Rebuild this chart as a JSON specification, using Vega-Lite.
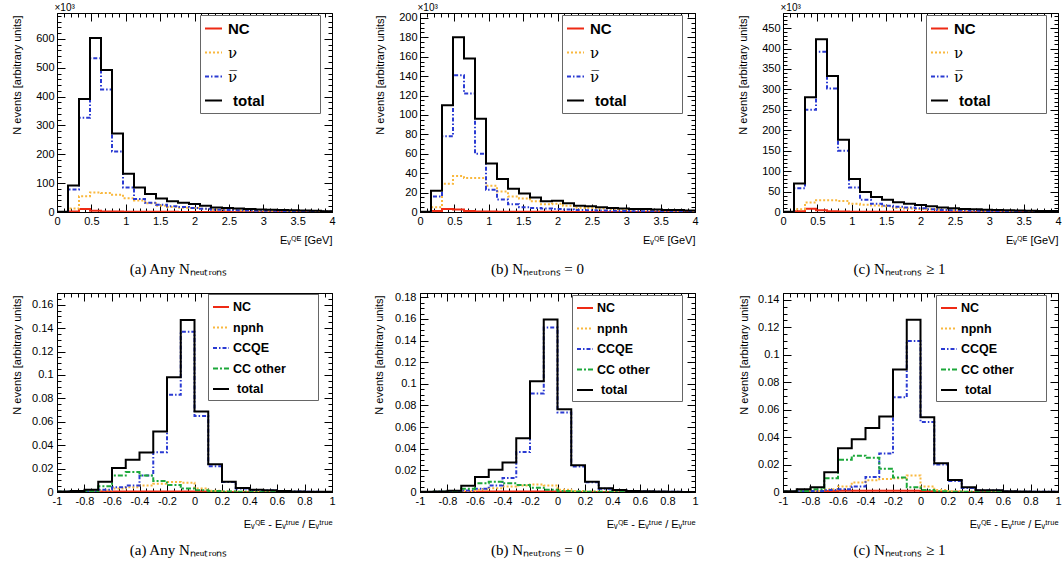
{
"$schema":"https://vega.github.io/schema/vega-lite/v6.json",
"padding":{"left":10,"top":1,"right":0,"bottom":0},
"background":"#ffffff",
"config":{
 "view":{"stroke":"#000","strokeWidth":1},
 "font":"Liberation Sans",
 "axis":{"domain":false,"grid":false,"tickColor":"#000","tickWidth":1,"labelColor":"#000","titleColor":"#000","labelFont":"Liberation Sans","labelFontSize":11,"titleFont":"Liberation Sans","titleFontSize":11,"titleFontWeight":"normal","tickSize":-8,"labelPadding":11,"labelFlush":false,"labelOverlap":false},
 "title":{"orient":"bottom","frame":"group","anchor":"middle","offset":17,"font":"Liberation Serif","fontSize":15,"fontWeight":"normal","color":"#000","baseline":"top"},
 "legend":{"titleFontSize":1}
},
"datasets":{
"ta":[
{"x":0,"NC":0,"nu":0,"nubar":0,"total":0.5},
{"x":0.16,"NC":2,"nu":12,"nubar":78,"total":92},
{"x":0.32,"NC":10,"nu":55,"nubar":327,"total":392},
{"x":0.48,"NC":4,"nu":68,"nubar":533,"total":603},
{"x":0.64,"NC":2,"nu":66,"nubar":425,"total":492},
{"x":0.8,"NC":1.5,"nu":60,"nubar":210,"total":272},
{"x":0.96,"NC":1,"nu":48,"nubar":85,"total":133},
{"x":1.12,"NC":0.8,"nu":40,"nubar":45,"total":85},
{"x":1.28,"NC":0.6,"nu":30,"nubar":32,"total":62},
{"x":1.44,"NC":0.5,"nu":22,"nubar":25,"total":47},
{"x":1.6,"NC":0.5,"nu":17,"nubar":20,"total":37},
{"x":1.76,"NC":0.4,"nu":15,"nubar":17,"total":32},
{"x":1.92,"NC":0.4,"nu":14,"nubar":14,"total":28},
{"x":2.08,"NC":0.3,"nu":11,"nubar":11,"total":22},
{"x":2.24,"NC":0.3,"nu":8,"nubar":8,"total":16},
{"x":2.4,"NC":0.3,"nu":7,"nubar":7,"total":14},
{"x":2.56,"NC":0.2,"nu":6,"nubar":6,"total":12},
{"x":2.72,"NC":0.2,"nu":5,"nubar":5,"total":10},
{"x":2.88,"NC":0.2,"nu":4.5,"nubar":4.5,"total":9},
{"x":3.04,"NC":0.2,"nu":4,"nubar":4,"total":8},
{"x":3.2,"NC":0.1,"nu":3.5,"nubar":3.5,"total":7},
{"x":3.36,"NC":0.1,"nu":3,"nubar":3,"total":6},
{"x":3.52,"NC":0.1,"nu":2.5,"nubar":2.5,"total":5},
{"x":3.68,"NC":0.1,"nu":2,"nubar":2,"total":4},
{"x":3.84,"NC":0.1,"nu":1.5,"nubar":1.5,"total":3},
{"x":4,"NC":0.1,"nu":1.5,"nubar":1.5,"total":3}],
"tb":[
{"x":0,"NC":0,"nu":0,"nubar":0,"total":0.2},
{"x":0.16,"NC":1,"nu":5,"nubar":16,"total":22},
{"x":0.32,"NC":3,"nu":29,"nubar":78,"total":110},
{"x":0.48,"NC":2.5,"nu":37,"nubar":141,"total":180},
{"x":0.64,"NC":1,"nu":35,"nubar":122,"total":158},
{"x":0.8,"NC":0.6,"nu":35,"nubar":60,"total":96},
{"x":0.96,"NC":0.4,"nu":27,"nubar":23,"total":50},
{"x":1.12,"NC":0.3,"nu":21,"nubar":13,"total":34},
{"x":1.28,"NC":0.3,"nu":16,"nubar":8,"total":24},
{"x":1.44,"NC":0.2,"nu":14,"nubar":5,"total":19},
{"x":1.6,"NC":0.2,"nu":11,"nubar":4,"total":15},
{"x":1.76,"NC":0.2,"nu":8,"nubar":3.5,"total":11},
{"x":1.92,"NC":0.2,"nu":8.5,"nubar":3,"total":11.5},
{"x":2.08,"NC":0.1,"nu":6.5,"nubar":2.5,"total":9},
{"x":2.24,"NC":0.1,"nu":4.5,"nubar":2,"total":6.5},
{"x":2.4,"NC":0.1,"nu":4.2,"nubar":1.8,"total":6},
{"x":2.56,"NC":0.1,"nu":3.5,"nubar":1.5,"total":5},
{"x":2.72,"NC":0.1,"nu":2.8,"nubar":1.2,"total":4},
{"x":2.88,"NC":0.1,"nu":2.5,"nubar":1,"total":3.5},
{"x":3.04,"NC":0.1,"nu":2.2,"nubar":0.8,"total":3},
{"x":3.2,"NC":0.1,"nu":2.2,"nubar":0.8,"total":3},
{"x":3.36,"NC":0,"nu":1.8,"nubar":0.7,"total":2.5},
{"x":3.52,"NC":0,"nu":1.4,"nubar":0.6,"total":2},
{"x":3.68,"NC":0,"nu":1.4,"nubar":0.6,"total":2},
{"x":3.84,"NC":0,"nu":1,"nubar":0.5,"total":1.5},
{"x":4,"NC":0,"nu":1,"nubar":0.5,"total":1.5}],
"tc":[
{"x":0,"NC":0,"nu":0,"nubar":0,"total":0.5},
{"x":0.16,"NC":2,"nu":7,"nubar":58,"total":70},
{"x":0.32,"NC":8,"nu":23,"nubar":250,"total":281},
{"x":0.48,"NC":4,"nu":29,"nubar":392,"total":423},
{"x":0.64,"NC":2,"nu":29,"nubar":302,"total":333},
{"x":0.8,"NC":1,"nu":27,"nubar":150,"total":177},
{"x":0.96,"NC":0.8,"nu":20,"nubar":60,"total":81},
{"x":1.12,"NC":0.6,"nu":18,"nubar":30,"total":49},
{"x":1.28,"NC":0.5,"nu":16,"nubar":20,"total":37},
{"x":1.44,"NC":0.4,"nu":14,"nubar":15,"total":30},
{"x":1.6,"NC":0.4,"nu":10,"nubar":13,"total":24},
{"x":1.76,"NC":0.3,"nu":8.5,"nubar":11,"total":20},
{"x":1.92,"NC":0.3,"nu":7.5,"nubar":9,"total":17},
{"x":2.08,"NC":0.3,"nu":6.5,"nubar":7,"total":14},
{"x":2.24,"NC":0.2,"nu":5.5,"nubar":5,"total":11},
{"x":2.4,"NC":0.2,"nu":4.5,"nubar":4,"total":9},
{"x":2.56,"NC":0.2,"nu":3.8,"nubar":3.5,"total":7.5},
{"x":2.72,"NC":0.2,"nu":3.3,"nubar":3,"total":6.5},
{"x":2.88,"NC":0.1,"nu":2.8,"nubar":2.5,"total":5.5},
{"x":3.04,"NC":0.1,"nu":2.8,"nubar":2,"total":5},
{"x":3.2,"NC":0.1,"nu":2,"nubar":2,"total":4},
{"x":3.36,"NC":0.1,"nu":1.8,"nubar":1.5,"total":3.5},
{"x":3.52,"NC":0.1,"nu":1.6,"nubar":1.5,"total":3.2},
{"x":3.68,"NC":0.1,"nu":1.5,"nubar":1,"total":2.6},
{"x":3.84,"NC":0.1,"nu":1.5,"nubar":1,"total":2.6},
{"x":4,"NC":0.1,"nu":1.5,"nubar":1,"total":2.6}],
"ba":[
{"x":-1,"NC":0,"npnh":0,"CCQE":0.0002,"CC other":0.0002,"total":0.0005},
{"x":-0.9,"NC":0,"npnh":0.0001,"CCQE":0.0003,"CC other":0.0003,"total":0.0008},
{"x":-0.8,"NC":0.0002,"npnh":0.0004,"CCQE":0.0005,"CC other":0.0008,"total":0.002},
{"x":-0.7,"NC":0.0004,"npnh":0.0015,"CCQE":0.002,"CC other":0.005,"total":0.0088},
{"x":-0.6,"NC":0.0005,"npnh":0.003,"CCQE":0.004,"CC other":0.014,"total":0.0204},
{"x":-0.5,"NC":0.0005,"npnh":0.004,"CCQE":0.0055,"CC other":0.017,"total":0.0275},
{"x":-0.4,"NC":0.0005,"npnh":0.0055,"CCQE":0.014,"CC other":0.014,"total":0.0338},
{"x":-0.3,"NC":0.0005,"npnh":0.007,"CCQE":0.034,"CC other":0.0095,"total":0.0516},
{"x":-0.2,"NC":0.0005,"npnh":0.0085,"CCQE":0.083,"CC other":0.006,"total":0.098},
{"x":-0.1,"NC":0.0005,"npnh":0.008,"CCQE":0.137,"CC other":0.003,"total":0.147},
{"x":0,"NC":0.0004,"npnh":0.003,"CCQE":0.065,"CC other":0.0015,"total":0.0687},
{"x":0.1,"NC":0.0002,"npnh":0.001,"CCQE":0.022,"CC other":0.0008,"total":0.0238},
{"x":0.2,"NC":0.0001,"npnh":0.0005,"CCQE":0.0085,"CC other":0.0004,"total":0.0088},
{"x":0.3,"NC":0,"npnh":0.0002,"CCQE":0.003,"CC other":0.0002,"total":0.0034},
{"x":0.4,"NC":0,"npnh":0.0001,"CCQE":0.0017,"CC other":0.0001,"total":0.002},
{"x":0.5,"NC":0,"npnh":0.0001,"CCQE":0.0012,"CC other":0.0001,"total":0.0014},
{"x":0.6,"NC":0,"npnh":0,"CCQE":0.0007,"CC other":0.0001,"total":0.0008},
{"x":0.7,"NC":0,"npnh":0,"CCQE":0.0004,"CC other":0,"total":0.0005},
{"x":0.8,"NC":0,"npnh":0,"CCQE":0.0002,"CC other":0,"total":0.0003},
{"x":0.9,"NC":0,"npnh":0,"CCQE":0.0001,"CC other":0,"total":0.0002},
{"x":1,"NC":0,"npnh":0,"CCQE":0.0001,"CC other":0,"total":0.0002}],
"bb":[
{"x":-1,"NC":0,"npnh":0,"CCQE":0.0001,"CC other":0.0001,"total":0.0003},
{"x":-0.9,"NC":0,"npnh":0.0001,"CCQE":0.0002,"CC other":0.0002,"total":0.0005},
{"x":-0.8,"NC":0.0001,"npnh":0.0002,"CCQE":0.0004,"CC other":0.0005,"total":0.0012},
{"x":-0.7,"NC":0.0003,"npnh":0.001,"CCQE":0.0015,"CC other":0.003,"total":0.0058},
{"x":-0.6,"NC":0.0004,"npnh":0.002,"CCQE":0.003,"CC other":0.008,"total":0.0138},
{"x":-0.5,"NC":0.0004,"npnh":0.0035,"CCQE":0.006,"CC other":0.0095,"total":0.0205},
{"x":-0.4,"NC":0.0004,"npnh":0.005,"CCQE":0.013,"CC other":0.008,"total":0.0273},
{"x":-0.3,"NC":0.0004,"npnh":0.006,"CCQE":0.037,"CC other":0.0065,"total":0.0497},
{"x":-0.2,"NC":0.0004,"npnh":0.007,"CCQE":0.091,"CC other":0.004,"total":0.1024},
{"x":-0.1,"NC":0.0004,"npnh":0.006,"CCQE":0.152,"CC other":0.002,"total":0.1595},
{"x":0,"NC":0.0003,"npnh":0.002,"CCQE":0.0735,"CC other":0.001,"total":0.0764},
{"x":0.1,"NC":0.0001,"npnh":0.001,"CCQE":0.0235,"CC other":0.0005,"total":0.0248},
{"x":0.2,"NC":0,"npnh":0.0004,"CCQE":0.009,"CC other":0.0002,"total":0.0095},
{"x":0.3,"NC":0,"npnh":0.0002,"CCQE":0.003,"CC other":0.0002,"total":0.0034},
{"x":0.4,"NC":0,"npnh":0.0001,"CCQE":0.0016,"CC other":0.0001,"total":0.0018},
{"x":0.5,"NC":0,"npnh":0,"CCQE":0.0009,"CC other":0.0001,"total":0.001},
{"x":0.6,"NC":0,"npnh":0,"CCQE":0.0005,"CC other":0,"total":0.0006},
{"x":0.7,"NC":0,"npnh":0,"CCQE":0.0003,"CC other":0,"total":0.0004},
{"x":0.8,"NC":0,"npnh":0,"CCQE":0.0002,"CC other":0,"total":0.0002},
{"x":0.9,"NC":0,"npnh":0,"CCQE":0.0001,"CC other":0,"total":0.0001},
{"x":1,"NC":0,"npnh":0,"CCQE":0.0001,"CC other":0,"total":0.0001}],
"bc":[
{"x":-1,"NC":0,"npnh":0,"CCQE":0.0002,"CC other":0.0002,"total":0.0005},
{"x":-0.9,"NC":0.0002,"npnh":0.0003,"CCQE":0.0005,"CC other":0.0008,"total":0.002},
{"x":-0.8,"NC":0.0004,"npnh":0.0006,"CCQE":0.0008,"CC other":0.002,"total":0.0035},
{"x":-0.7,"NC":0.0008,"npnh":0.002,"CCQE":0.0015,"CC other":0.01,"total":0.0143},
{"x":-0.6,"NC":0.001,"npnh":0.004,"CCQE":0.002,"CC other":0.0235,"total":0.0319},
{"x":-0.5,"NC":0.001,"npnh":0.007,"CCQE":0.004,"CC other":0.0265,"total":0.0384},
{"x":-0.4,"NC":0.001,"npnh":0.0085,"CCQE":0.011,"CC other":0.025,"total":0.0467},
{"x":-0.3,"NC":0.001,"npnh":0.0095,"CCQE":0.028,"CC other":0.017,"total":0.0551},
{"x":-0.2,"NC":0.001,"npnh":0.01,"CCQE":0.069,"CC other":0.0105,"total":0.0892},
{"x":-0.1,"NC":0.001,"npnh":0.012,"CCQE":0.11,"CC other":0.0035,"total":0.1255},
{"x":0,"NC":0.0005,"npnh":0.004,"CCQE":0.051,"CC other":0.0015,"total":0.0544},
{"x":0.1,"NC":0.0002,"npnh":0.0015,"CCQE":0.02,"CC other":0.0005,"total":0.021},
{"x":0.2,"NC":0.0001,"npnh":0.0005,"CCQE":0.008,"CC other":0.0002,"total":0.0087},
{"x":0.3,"NC":0,"npnh":0.0002,"CCQE":0.003,"CC other":0.0001,"total":0.0034},
{"x":0.4,"NC":0,"npnh":0.0001,"CCQE":0.0011,"CC other":0.0001,"total":0.0013},
{"x":0.5,"NC":0,"npnh":0.0001,"CCQE":0.0011,"CC other":0.0001,"total":0.0013},
{"x":0.6,"NC":0,"npnh":0,"CCQE":0.0004,"CC other":0,"total":0.0005},
{"x":0.7,"NC":0,"npnh":0,"CCQE":0.0002,"CC other":0,"total":0.0003},
{"x":0.8,"NC":0,"npnh":0,"CCQE":0.0001,"CC other":0,"total":0.0002},
{"x":0.9,"NC":0,"npnh":0,"CCQE":0.0001,"CC other":0,"total":0.0001},
{"x":1,"NC":0,"npnh":0,"CCQE":0.0001,"CC other":0,"total":0.0001}]
},
"concat":[
 {"width":275,"height":199,"data":{"name":"ta"},
  "transform":[{"fold":["NC","nu","nubar","total"],"as":["s","v"]}],
  "title":{"text":"(a) Any Nₙₑᵤₜᵣₒₙₛ","dx":-16,"offset":17},
  "layer":[
   {"mark":{"type":"line","interpolate":"step-after","clip":true},
    "encoding":{
     "x":{"field":"x","type":"quantitative","scale":{"domain":[0,4],"nice":false,"zero":false},"axis":{"orient":"bottom","values":[0,0.5,1,1.5,2,2.5,3,3.5,4],"format":".1~f","title":"Eᵥꟴᴱ [GeV]","titleX":275,"titleY":22,"titleAlign":"right","titleBaseline":"top"}},
     "y":{"field":"v","type":"quantitative","scale":{"domain":[0,690],"nice":false},"axis":{"orient":"left","values":[0,100,200,300,400,500,600],"format":"d","title":"N events [arbitrary units]","titleX":-40,"titleY":2,"titleAlign":"right","titleBaseline":"middle","titleAngle":-90}},
     "color":{"field":"s","type":"nominal","scale":{"domain":["NC","nu","nubar","total"],"range":["#ee2a14","#f9b83e","#2a3ad2","#000000"]},
      "legend":{"title":null,"orient":"none","legendX":143,"legendY":2,"direction":"vertical","strokeColor":"#666","fillColor":"#fff","padding":4,"symbolType":"M-1,0L1,0M11.5,0L11.5,0","symbolFillColor":"transparent","symbolSize":289,"rowPadding":6,"labelOffset":5,"labelFontSize":15,"labelColor":"#000","labelExpr":"datum.value=='nu'?'ν':datum.value=='nubar'?'ν̅':datum.label","encode":{"labels":{"update":{"fontWeight":{"signal":"datum.value=='nu'||datum.value=='nubar'?'normal':'bold'"},"font":{"signal":"datum.value=='nu'||datum.value=='nubar'?'DejaVu Serif':'Liberation Sans'"},"dx":{"signal":"datum.value=='total'?5:0"}}}}}},
     "strokeDash":{"field":"s","type":"nominal","scale":{"domain":["NC","nu","nubar","total"],"range":[[1,0],[2,2],[4,2,1.5,2],[1,0]]}},
     "strokeWidth":{"field":"s","type":"nominal","scale":{"domain":["NC","nu","nubar","total"],"range":[2,2,2,3]}}
    }},
   {"mark":{"type":"line","opacity":0},
    "encoding":{
     "x":{"field":"x","type":"quantitative","scale":{"domain":[0,4],"nice":false,"zero":false},"axis":{"orient":"top","labels":false,"values":[0,0.5,1,1.5,2,2.5,3,3.5,4],"title":"×10³","titleX":-3,"titleY":-3,"titleAlign":"left","titleBaseline":"alphabetic","titleAngle":0,"titleFontSize":10}},
     "y":{"field":"v","type":"quantitative","scale":{"domain":[0,690],"nice":false},"axis":{"orient":"right","labels":false,"values":[0,100,200,300,400,500,600],"title":null}}}},
   {"mark":{"type":"line","opacity":0},
    "encoding":{
     "x":{"field":"x","type":"quantitative","scale":{"domain":[0,4],"nice":false,"zero":false},"axis":{"orient":"bottom","labels":false,"tickCount":40,"tickSize":-4,"title":null}},
     "y":{"field":"v","type":"quantitative","scale":{"domain":[0,690],"nice":false},"axis":{"orient":"left","labels":false,"tickCount":35,"tickSize":-4,"title":null}}}},
   {"mark":{"type":"line","opacity":0},
    "encoding":{
     "x":{"field":"x","type":"quantitative","scale":{"domain":[0,4],"nice":false,"zero":false},"axis":{"orient":"top","labels":false,"tickCount":40,"tickSize":-4,"title":null}},
     "y":{"field":"v","type":"quantitative","scale":{"domain":[0,690],"nice":false},"axis":{"orient":"right","labels":false,"tickCount":35,"tickSize":-4,"title":null}}}}
  ],
  "resolve":{"axis":{"x":"independent","y":"independent"}}
 },
 {"width":275,"height":199,"data":{"name":"tb"},
  "transform":[{"fold":["NC","nu","nubar","total"],"as":["s","v"]}],
  "title":{"text":"(b) Nₙₑᵤₜᵣₒₙₛ = 0","dx":-20,"offset":17},
  "layer":[
   {"mark":{"type":"line","interpolate":"step-after","clip":true},
    "encoding":{
     "x":{"field":"x","type":"quantitative","scale":{"domain":[0,4],"nice":false,"zero":false},"axis":{"orient":"bottom","values":[0,0.5,1,1.5,2,2.5,3,3.5,4],"format":".1~f","title":"Eᵥꟴᴱ [GeV]","titleX":275,"titleY":22,"titleAlign":"right","titleBaseline":"top"}},
     "y":{"field":"v","type":"quantitative","scale":{"domain":[0,205],"nice":false},"axis":{"orient":"left","values":[0,20,40,60,80,100,120,140,160,180,200],"format":"d","title":"N events [arbitrary units]","titleX":-40,"titleY":2,"titleAlign":"right","titleBaseline":"middle","titleAngle":-90}},
     "color":{"field":"s","type":"nominal","scale":{"domain":["NC","nu","nubar","total"],"range":["#ee2a14","#f9b83e","#2a3ad2","#000000"]},
      "legend":{"title":null,"orient":"none","legendX":142,"legendY":2,"direction":"vertical","strokeColor":"#666","fillColor":"#fff","padding":4,"symbolType":"M-1,0L1,0M11.5,0L11.5,0","symbolFillColor":"transparent","symbolSize":289,"rowPadding":6,"labelOffset":5,"labelFontSize":15,"labelColor":"#000","labelExpr":"datum.value=='nu'?'ν':datum.value=='nubar'?'ν̅':datum.label","encode":{"labels":{"update":{"fontWeight":{"signal":"datum.value=='nu'||datum.value=='nubar'?'normal':'bold'"},"font":{"signal":"datum.value=='nu'||datum.value=='nubar'?'DejaVu Serif':'Liberation Sans'"},"dx":{"signal":"datum.value=='total'?5:0"}}}}}},
     "strokeDash":{"field":"s","type":"nominal","scale":{"domain":["NC","nu","nubar","total"],"range":[[1,0],[2,2],[4,2,1.5,2],[1,0]]}},
     "strokeWidth":{"field":"s","type":"nominal","scale":{"domain":["NC","nu","nubar","total"],"range":[2,2,2,3]}}
    }},
   {"mark":{"type":"line","opacity":0},
    "encoding":{
     "x":{"field":"x","type":"quantitative","scale":{"domain":[0,4],"nice":false,"zero":false},"axis":{"orient":"top","labels":false,"values":[0,0.5,1,1.5,2,2.5,3,3.5,4],"title":"×10³","titleX":-3,"titleY":-3,"titleAlign":"left","titleBaseline":"alphabetic","titleAngle":0,"titleFontSize":10}},
     "y":{"field":"v","type":"quantitative","scale":{"domain":[0,205],"nice":false},"axis":{"orient":"right","labels":false,"values":[0,20,40,60,80,100,120,140,160,180,200],"title":null}}}},
   {"mark":{"type":"line","opacity":0},
    "encoding":{
     "x":{"field":"x","type":"quantitative","scale":{"domain":[0,4],"nice":false,"zero":false},"axis":{"orient":"bottom","labels":false,"tickCount":40,"tickSize":-4,"title":null}},
     "y":{"field":"v","type":"quantitative","scale":{"domain":[0,205],"nice":false},"axis":{"orient":"left","labels":false,"tickCount":40,"tickSize":-4,"title":null}}}},
   {"mark":{"type":"line","opacity":0},
    "encoding":{
     "x":{"field":"x","type":"quantitative","scale":{"domain":[0,4],"nice":false,"zero":false},"axis":{"orient":"top","labels":false,"tickCount":40,"tickSize":-4,"title":null}},
     "y":{"field":"v","type":"quantitative","scale":{"domain":[0,205],"nice":false},"axis":{"orient":"right","labels":false,"tickCount":40,"tickSize":-4,"title":null}}}}
  ],
  "resolve":{"axis":{"x":"independent","y":"independent"}}
 },
 {"width":275,"height":199,"data":{"name":"tc"},
  "transform":[{"fold":["NC","nu","nubar","total"],"as":["s","v"]}],
  "title":{"text":"(c) Nₙₑᵤₜᵣₒₙₛ ≥ 1","dx":-21,"offset":17},
  "layer":[
   {"mark":{"type":"line","interpolate":"step-after","clip":true},
    "encoding":{
     "x":{"field":"x","type":"quantitative","scale":{"domain":[0,4],"nice":false,"zero":false},"axis":{"orient":"bottom","values":[0,0.5,1,1.5,2,2.5,3,3.5,4],"format":".1~f","title":"Eᵥꟴᴱ [GeV]","titleX":275,"titleY":22,"titleAlign":"right","titleBaseline":"top"}},
     "y":{"field":"v","type":"quantitative","scale":{"domain":[0,487],"nice":false},"axis":{"orient":"left","values":[0,50,100,150,200,250,300,350,400,450],"format":"d","title":"N events [arbitrary units]","titleX":-40,"titleY":2,"titleAlign":"right","titleBaseline":"middle","titleAngle":-90}},
     "color":{"field":"s","type":"nominal","scale":{"domain":["NC","nu","nubar","total"],"range":["#ee2a14","#f9b83e","#2a3ad2","#000000"]},
      "legend":{"title":null,"orient":"none","legendX":143,"legendY":2,"direction":"vertical","strokeColor":"#666","fillColor":"#fff","padding":4,"symbolType":"M-1,0L1,0M11.5,0L11.5,0","symbolFillColor":"transparent","symbolSize":289,"rowPadding":6,"labelOffset":5,"labelFontSize":15,"labelColor":"#000","labelExpr":"datum.value=='nu'?'ν':datum.value=='nubar'?'ν̅':datum.label","encode":{"labels":{"update":{"fontWeight":{"signal":"datum.value=='nu'||datum.value=='nubar'?'normal':'bold'"},"font":{"signal":"datum.value=='nu'||datum.value=='nubar'?'DejaVu Serif':'Liberation Sans'"},"dx":{"signal":"datum.value=='total'?5:0"}}}}}},
     "strokeDash":{"field":"s","type":"nominal","scale":{"domain":["NC","nu","nubar","total"],"range":[[1,0],[2,2],[4,2,1.5,2],[1,0]]}},
     "strokeWidth":{"field":"s","type":"nominal","scale":{"domain":["NC","nu","nubar","total"],"range":[2,2,2,3]}}
    }},
   {"mark":{"type":"line","opacity":0},
    "encoding":{
     "x":{"field":"x","type":"quantitative","scale":{"domain":[0,4],"nice":false,"zero":false},"axis":{"orient":"top","labels":false,"values":[0,0.5,1,1.5,2,2.5,3,3.5,4],"title":"×10³","titleX":-3,"titleY":-3,"titleAlign":"left","titleBaseline":"alphabetic","titleAngle":0,"titleFontSize":10}},
     "y":{"field":"v","type":"quantitative","scale":{"domain":[0,487],"nice":false},"axis":{"orient":"right","labels":false,"values":[0,50,100,150,200,250,300,350,400,450],"title":null}}}},
   {"mark":{"type":"line","opacity":0},
    "encoding":{
     "x":{"field":"x","type":"quantitative","scale":{"domain":[0,4],"nice":false,"zero":false},"axis":{"orient":"bottom","labels":false,"tickCount":40,"tickSize":-4,"title":null}},
     "y":{"field":"v","type":"quantitative","scale":{"domain":[0,487],"nice":false},"axis":{"orient":"left","labels":false,"tickCount":48,"tickSize":-4,"title":null}}}},
   {"mark":{"type":"line","opacity":0},
    "encoding":{
     "x":{"field":"x","type":"quantitative","scale":{"domain":[0,4],"nice":false,"zero":false},"axis":{"orient":"top","labels":false,"tickCount":40,"tickSize":-4,"title":null}},
     "y":{"field":"v","type":"quantitative","scale":{"domain":[0,487],"nice":false},"axis":{"orient":"right","labels":false,"tickCount":48,"tickSize":-4,"title":null}}}}
  ],
  "resolve":{"axis":{"x":"independent","y":"independent"}}
 },
 {"width":275,"height":199,"data":{"name":"ba"},
  "transform":[{"fold":["NC","npnh","CCQE","CC other","total"],"as":["s","v"]}],
  "title":{"text":"(a) Any Nₙₑᵤₜᵣₒₙₛ","dx":-16,"offset":14},
  "layer":[
   {"mark":{"type":"line","interpolate":"step-after","clip":true},
    "encoding":{
     "x":{"field":"x","type":"quantitative","scale":{"domain":[-1,1],"nice":false,"zero":false},"axis":{"orient":"bottom","values":[-1,-0.8,-0.6,-0.4,-0.2,0,0.2,0.4,0.6,0.8,1],"labelExpr":"replace(format(datum.value,'.1~f'),'−','-')","title":"Eᵥꟴᴱ - Eᵥᵗʳᵘᵉ / Eᵥᵗʳᵘᵉ","titleX":275,"titleY":26,"titleAlign":"right","titleBaseline":"top"}},
     "y":{"field":"v","type":"quantitative","scale":{"domain":[0,0.17],"nice":false},"axis":{"orient":"left","values":[0,0.02,0.04,0.06,0.08,0.1,0.12,0.14,0.16],"format":".2~f","labelPadding":12,"title":"N events [arbitrary units]","titleX":-40,"titleY":2,"titleAlign":"right","titleBaseline":"middle","titleAngle":-90}},
     "color":{"field":"s","type":"nominal","scale":{"domain":["NC","npnh","CCQE","CC other","total"],"range":["#ee2a14","#f9b83e","#2a3ad2","#1ca83a","#000000"]},
      "legend":{"title":null,"orient":"none","legendX":151,"legendY":1,"direction":"vertical","strokeColor":"#666","fillColor":"#fff","padding":4,"symbolType":"M-1,0L1,0M11.1,0L11.1,0","symbolFillColor":"transparent","symbolSize":256,"rowPadding":4.5,"labelOffset":3,"labelFontSize":12.5,"labelColor":"#000","labelExpr":"datum.label","encode":{"labels":{"update":{"fontWeight":{"value":"bold"},"font":{"value":"Liberation Sans"},"dx":{"signal":"datum.value=='total'?4:0"}}}}}},
     "strokeDash":{"field":"s","type":"nominal","scale":{"domain":["NC","npnh","CCQE","CC other","total"],"range":[[1,0],[2,2],[4,2,1.5,2],[5,2,2,2],[1,0]]}},
     "strokeWidth":{"field":"s","type":"nominal","scale":{"domain":["NC","npnh","CCQE","CC other","total"],"range":[2,2,2,2,3]}}
    }},
   {"mark":{"type":"line","opacity":0},
    "encoding":{
     "x":{"field":"x","type":"quantitative","scale":{"domain":[-1,1],"nice":false,"zero":false},"axis":{"orient":"top","labels":false,"values":[-1,-0.8,-0.6,-0.4,-0.2,0,0.2,0.4,0.6,0.8,1],"title":null}},
     "y":{"field":"v","type":"quantitative","scale":{"domain":[0,0.17],"nice":false},"axis":{"orient":"right","labels":false,"values":[0,0.02,0.04,0.06,0.08,0.1,0.12,0.14,0.16],"title":null}}}},
   {"mark":{"type":"line","opacity":0},
    "encoding":{
     "x":{"field":"x","type":"quantitative","scale":{"domain":[-1,1],"nice":false,"zero":false},"axis":{"orient":"bottom","labels":false,"tickCount":40,"tickSize":-4,"title":null}},
     "y":{"field":"v","type":"quantitative","scale":{"domain":[0,0.17],"nice":false},"axis":{"orient":"left","labels":false,"tickCount":34,"tickSize":-4,"title":null}}}},
   {"mark":{"type":"line","opacity":0},
    "encoding":{
     "x":{"field":"x","type":"quantitative","scale":{"domain":[-1,1],"nice":false,"zero":false},"axis":{"orient":"top","labels":false,"tickCount":40,"tickSize":-4,"title":null}},
     "y":{"field":"v","type":"quantitative","scale":{"domain":[0,0.17],"nice":false},"axis":{"orient":"right","labels":false,"tickCount":34,"tickSize":-4,"title":null}}}}
  ],
  "resolve":{"axis":{"x":"independent","y":"independent"}}
 },
 {"width":275,"height":199,"data":{"name":"bb"},
  "transform":[{"fold":["NC","npnh","CCQE","CC other","total"],"as":["s","v"]}],
  "title":{"text":"(b) Nₙₑᵤₜᵣₒₙₛ = 0","dx":-20,"offset":14},
  "layer":[
   {"mark":{"type":"line","interpolate":"step-after","clip":true},
    "encoding":{
     "x":{"field":"x","type":"quantitative","scale":{"domain":[-1,1],"nice":false,"zero":false},"axis":{"orient":"bottom","values":[-1,-0.8,-0.6,-0.4,-0.2,0,0.2,0.4,0.6,0.8,1],"labelExpr":"replace(format(datum.value,'.1~f'),'−','-')","title":"Eᵥꟴᴱ - Eᵥᵗʳᵘᵉ / Eᵥᵗʳᵘᵉ","titleX":275,"titleY":26,"titleAlign":"right","titleBaseline":"top"}},
     "y":{"field":"v","type":"quantitative","scale":{"domain":[0,0.184],"nice":false},"axis":{"orient":"left","values":[0,0.02,0.04,0.06,0.08,0.1,0.12,0.14,0.16,0.18],"format":".2~f","labelPadding":12,"title":"N events [arbitrary units]","titleX":-41,"titleY":2,"titleAlign":"right","titleBaseline":"middle","titleAngle":-90}},
     "color":{"field":"s","type":"nominal","scale":{"domain":["NC","npnh","CCQE","CC other","total"],"range":["#ee2a14","#f9b83e","#2a3ad2","#1ca83a","#000000"]},
      "legend":{"title":null,"orient":"none","legendX":152,"legendY":2,"direction":"vertical","strokeColor":"#666","fillColor":"#fff","padding":4,"symbolType":"M-1,0L1,0M11.1,0L11.1,0","symbolFillColor":"transparent","symbolSize":256,"rowPadding":4.5,"labelOffset":3,"labelFontSize":12.5,"labelColor":"#000","labelExpr":"datum.label","encode":{"labels":{"update":{"fontWeight":{"value":"bold"},"font":{"value":"Liberation Sans"},"dx":{"signal":"datum.value=='total'?4:0"}}}}}},
     "strokeDash":{"field":"s","type":"nominal","scale":{"domain":["NC","npnh","CCQE","CC other","total"],"range":[[1,0],[2,2],[4,2,1.5,2],[5,2,2,2],[1,0]]}},
     "strokeWidth":{"field":"s","type":"nominal","scale":{"domain":["NC","npnh","CCQE","CC other","total"],"range":[2,2,2,2,3]}}
    }},
   {"mark":{"type":"line","opacity":0},
    "encoding":{
     "x":{"field":"x","type":"quantitative","scale":{"domain":[-1,1],"nice":false,"zero":false},"axis":{"orient":"top","labels":false,"values":[-1,-0.8,-0.6,-0.4,-0.2,0,0.2,0.4,0.6,0.8,1],"title":null}},
     "y":{"field":"v","type":"quantitative","scale":{"domain":[0,0.184],"nice":false},"axis":{"orient":"right","labels":false,"values":[0,0.02,0.04,0.06,0.08,0.1,0.12,0.14,0.16,0.18],"title":null}}}},
   {"mark":{"type":"line","opacity":0},
    "encoding":{
     "x":{"field":"x","type":"quantitative","scale":{"domain":[-1,1],"nice":false,"zero":false},"axis":{"orient":"bottom","labels":false,"tickCount":40,"tickSize":-4,"title":null}},
     "y":{"field":"v","type":"quantitative","scale":{"domain":[0,0.184],"nice":false},"axis":{"orient":"left","labels":false,"tickCount":36,"tickSize":-4,"title":null}}}},
   {"mark":{"type":"line","opacity":0},
    "encoding":{
     "x":{"field":"x","type":"quantitative","scale":{"domain":[-1,1],"nice":false,"zero":false},"axis":{"orient":"top","labels":false,"tickCount":40,"tickSize":-4,"title":null}},
     "y":{"field":"v","type":"quantitative","scale":{"domain":[0,0.184],"nice":false},"axis":{"orient":"right","labels":false,"tickCount":36,"tickSize":-4,"title":null}}}}
  ],
  "resolve":{"axis":{"x":"independent","y":"independent"}}
 },
 {"width":275,"height":199,"data":{"name":"bc"},
  "transform":[{"fold":["NC","npnh","CCQE","CC other","total"],"as":["s","v"]}],
  "title":{"text":"(c) Nₙₑᵤₜᵣₒₙₛ ≥ 1","dx":-21,"offset":14},
  "layer":[
   {"mark":{"type":"line","interpolate":"step-after","clip":true},
    "encoding":{
     "x":{"field":"x","type":"quantitative","scale":{"domain":[-1,1],"nice":false,"zero":false},"axis":{"orient":"bottom","values":[-1,-0.8,-0.6,-0.4,-0.2,0,0.2,0.4,0.6,0.8,1],"labelExpr":"replace(format(datum.value,'.1~f'),'−','-')","title":"Eᵥꟴᴱ - Eᵥᵗʳᵘᵉ / Eᵥᵗʳᵘᵉ","titleX":275,"titleY":26,"titleAlign":"right","titleBaseline":"top"}},
     "y":{"field":"v","type":"quantitative","scale":{"domain":[0,0.145],"nice":false},"axis":{"orient":"left","values":[0,0.02,0.04,0.06,0.08,0.1,0.12,0.14],"format":".2~f","labelPadding":12,"title":"N events [arbitrary units]","titleX":-39,"titleY":2,"titleAlign":"right","titleBaseline":"middle","titleAngle":-90}},
     "color":{"field":"s","type":"nominal","scale":{"domain":["NC","npnh","CCQE","CC other","total"],"range":["#ee2a14","#f9b83e","#2a3ad2","#1ca83a","#000000"]},
      "legend":{"title":null,"orient":"none","legendX":153,"legendY":2,"direction":"vertical","strokeColor":"#666","fillColor":"#fff","padding":4,"symbolType":"M-1,0L1,0M11.1,0L11.1,0","symbolFillColor":"transparent","symbolSize":256,"rowPadding":4.5,"labelOffset":3,"labelFontSize":12.5,"labelColor":"#000","labelExpr":"datum.label","encode":{"labels":{"update":{"fontWeight":{"value":"bold"},"font":{"value":"Liberation Sans"},"dx":{"signal":"datum.value=='total'?4:0"}}}}}},
     "strokeDash":{"field":"s","type":"nominal","scale":{"domain":["NC","npnh","CCQE","CC other","total"],"range":[[1,0],[2,2],[4,2,1.5,2],[5,2,2,2],[1,0]]}},
     "strokeWidth":{"field":"s","type":"nominal","scale":{"domain":["NC","npnh","CCQE","CC other","total"],"range":[2,2,2,2,3]}}
    }},
   {"mark":{"type":"line","opacity":0},
    "encoding":{
     "x":{"field":"x","type":"quantitative","scale":{"domain":[-1,1],"nice":false,"zero":false},"axis":{"orient":"top","labels":false,"values":[-1,-0.8,-0.6,-0.4,-0.2,0,0.2,0.4,0.6,0.8,1],"title":null}},
     "y":{"field":"v","type":"quantitative","scale":{"domain":[0,0.145],"nice":false},"axis":{"orient":"right","labels":false,"values":[0,0.02,0.04,0.06,0.08,0.1,0.12,0.14],"title":null}}}},
   {"mark":{"type":"line","opacity":0},
    "encoding":{
     "x":{"field":"x","type":"quantitative","scale":{"domain":[-1,1],"nice":false,"zero":false},"axis":{"orient":"bottom","labels":false,"tickCount":40,"tickSize":-4,"title":null}},
     "y":{"field":"v","type":"quantitative","scale":{"domain":[0,0.145],"nice":false},"axis":{"orient":"left","labels":false,"tickCount":29,"tickSize":-4,"title":null}}}},
   {"mark":{"type":"line","opacity":0},
    "encoding":{
     "x":{"field":"x","type":"quantitative","scale":{"domain":[-1,1],"nice":false,"zero":false},"axis":{"orient":"top","labels":false,"tickCount":40,"tickSize":-4,"title":null}},
     "y":{"field":"v","type":"quantitative","scale":{"domain":[0,0.145],"nice":false},"axis":{"orient":"right","labels":false,"tickCount":29,"tickSize":-4,"title":null}}}}
  ],
  "resolve":{"axis":{"x":"independent","y":"independent"}}
 }
],
"columns":3,
"spacing":{"row":81,"column":88},
"bounds":"flush",
"resolve":{"scale":{"x":"independent","y":"independent","color":"independent","strokeDash":"independent","strokeWidth":"independent"},"legend":{"color":"independent","strokeDash":"independent","strokeWidth":"independent"}}
}
